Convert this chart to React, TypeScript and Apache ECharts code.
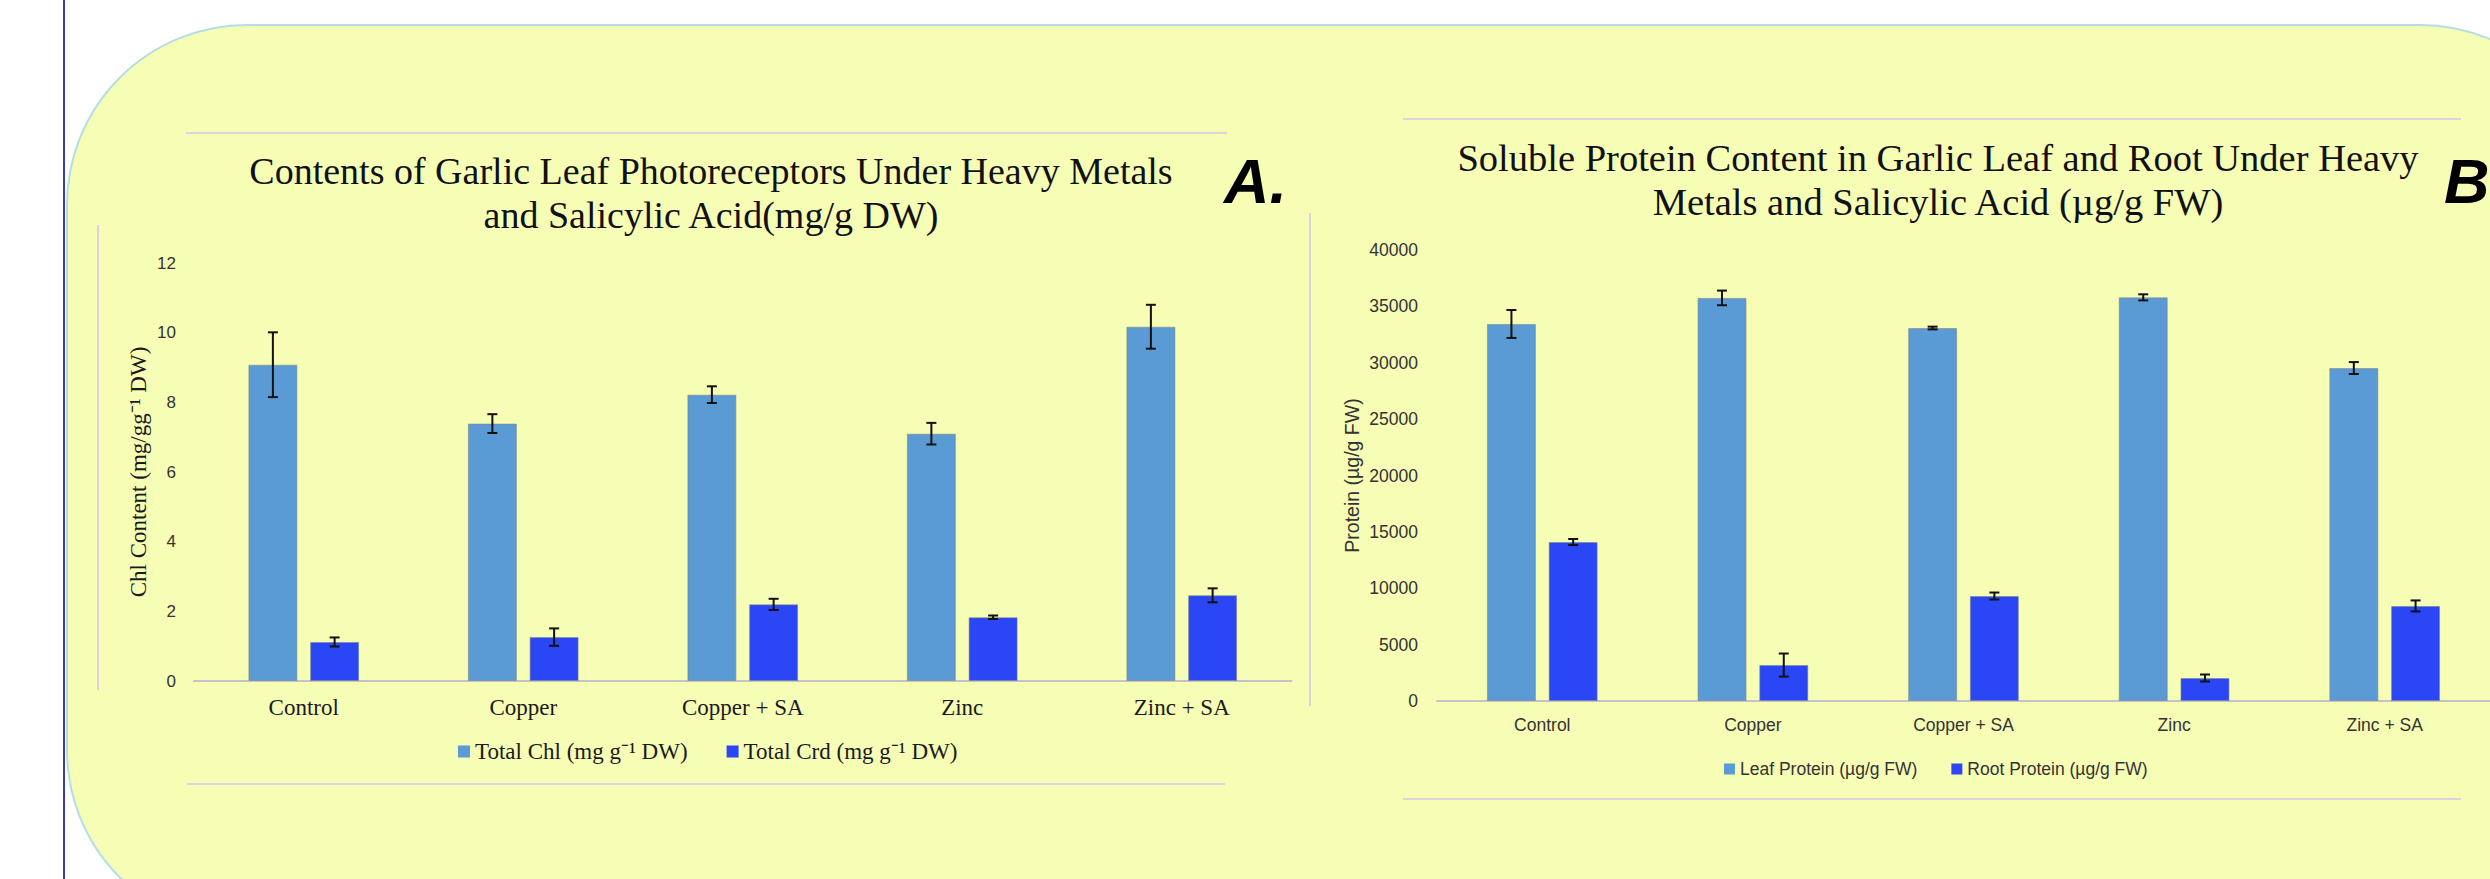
import React, { useEffect, useRef } from 'react';
import * as echarts from 'echarts';

// ---------- data ----------
const categories = ['Control', 'Copper', 'Copper + SA', 'Zinc', 'Zinc + SA'];

const chlName = 'Total Chl (mg g\u207B\u00B9 DW)';
const crdName = 'Total Crd (mg g\u207B\u00B9 DW)';
const chlValues = [9.08, 7.39, 8.22, 7.1, 10.17];
const chlErrors = [0.93, 0.27, 0.24, 0.31, 0.63];
const crdValues = [1.12, 1.26, 2.2, 1.83, 2.46];
const crdErrors = [0.13, 0.25, 0.16, 0.05, 0.2];

const leafName = 'Leaf Protein (\u00B5g/g FW)';
const rootName = 'Root Protein (\u00B5g/g FW)';
const leafValues = [33440, 35750, 33080, 35800, 29530];
const leafErrors = [1240, 650, 120, 270, 530];
const rootValues = [14100, 3190, 9310, 2040, 8430];
const rootErrors = [270, 1020, 310, 310, 490];

const axisA = { min: 0, max: 12, interval: 2 };
const axisB = { min: 0, max: 40000, interval: 5000 };

const titleA = 'Contents of Garlic Leaf Photoreceptors Under Heavy Metals\nand Salicylic Acid(mg/g DW)';
const titleB = 'Soluble Protein Content in Garlic Leaf and Root Under Heavy\nMetals and Salicylic Acid (\u00B5g/g FW)';
const yNameA = 'Chl Content (mg/gg\u207B\u00B9 DW)';
const yNameB = 'Protein (\u00B5g/g FW)';
const panelA = 'A.';
const panelB = 'B';

// ---------- styles ----------
const SERIF = '"Liberation Serif", "Times New Roman", serif';
const SANS = '"Liberation Sans", Arial, sans-serif';
const LIGHT = '#5B9BD5';
const DARK = '#2B47F5';
const BAR_W = 49;
const GAP_RATIO = 0.26;
const OFFSET = (BAR_W + BAR_W * GAP_RATIO) / 2;
const CAP = 5;

function errorSeries(xi: number, values: number[], errs: number[], side: number) {
  return {
    type: 'custom',
    xAxisIndex: xi,
    yAxisIndex: xi,
    silent: true,
    z: 10,
    data: values.map((v, i) => [i, v - errs[i], v + errs[i]]),
    encode: { x: 0, y: [1, 2] },
    renderItem: (params: any, api: any) => {
      const i = api.value(0);
      const lo = api.coord([i, api.value(1)]);
      const hi = api.coord([i, api.value(2)]);
      const x = lo[0] + side * OFFSET;
      const st = { stroke: '#111', lineWidth: 2 };
      return {
        type: 'group',
        children: [
          { type: 'line', shape: { x1: x, y1: lo[1], x2: x, y2: hi[1] }, style: st },
          { type: 'line', shape: { x1: x - CAP, y1: hi[1], x2: x + CAP, y2: hi[1] }, style: st },
          { type: 'line', shape: { x1: x - CAP, y1: lo[1], x2: x + CAP, y2: lo[1] }, style: st },
        ],
      };
    },
  };
}

function barSeries(name: string, xi: number, values: number[], color: string) {
  return {
    type: 'bar',
    name,
    xAxisIndex: xi,
    yAxisIndex: xi,
    data: values,
    barWidth: BAR_W,
    barGap: `${GAP_RATIO * 100}%`,
    itemStyle: { color, borderColor: 'rgba(130,130,130,0.55)', borderWidth: 1 },
  };
}

const frameStyle = { stroke: '#D6D6DC', lineWidth: 2 };

export default function App() {
  const ref = useRef<HTMLDivElement>(null);
  useEffect(() => {
    if (!ref.current) return;
    const chart = echarts.init(ref.current, undefined, { renderer: 'svg' });
    const option: any = {
      animation: false,
      backgroundColor: '#FFFFFF',
      graphic: [
        {
          type: 'rect',
          silent: true,
          shape: { x: 67, y: 25, width: 2533, height: 905, r: 180 },
          style: { fill: '#F6FDB5', stroke: '#B5DDE6', lineWidth: 2 },
        },
        { type: 'line', silent: true, shape: { x1: 64, y1: 0, x2: 64, y2: 879 }, style: { stroke: '#3B3BB0', lineWidth: 2 } },
        { type: 'line', silent: true, shape: { x1: 186, y1: 133, x2: 1227, y2: 133 }, style: frameStyle },
        { type: 'line', silent: true, shape: { x1: 98, y1: 225, x2: 98, y2: 690 }, style: frameStyle },
        { type: 'line', silent: true, shape: { x1: 187, y1: 784, x2: 1225, y2: 784 }, style: frameStyle },
        { type: 'line', silent: true, shape: { x1: 1310, y1: 213, x2: 1310, y2: 706 }, style: frameStyle },
        { type: 'line', silent: true, shape: { x1: 1403, y1: 119, x2: 2461, y2: 119 }, style: frameStyle },
        { type: 'line', silent: true, shape: { x1: 1403, y1: 799, x2: 2461, y2: 799 }, style: frameStyle },
      ],
      title: [
        {
          text: titleA, left: 706, top: 144, textAlign: 'center',
          textStyle: { fontFamily: SERIF, fontSize: 38, fontWeight: 'normal', color: '#111', lineHeight: 44 },
        },
        {
          text: titleB, left: 1933, top: 131, textAlign: 'center',
          textStyle: { fontFamily: SERIF, fontSize: 38.5, fontWeight: 'normal', color: '#111', lineHeight: 44 },
        },
        {
          text: panelA, left: 1219, top: 144,
          textStyle: { fontFamily: SANS, fontSize: 63, fontStyle: 'italic', fontWeight: 'bold', color: '#000', lineHeight: 63 },
        },
        {
          text: panelB, left: 2439, top: 144,
          textStyle: { fontFamily: SANS, fontSize: 63, fontStyle: 'italic', fontWeight: 'bold', color: '#000', lineHeight: 63 },
        },
      ],
      legend: [
        {
          data: [chlName, crdName], left: 458, top: 740, padding: 0,
          itemWidth: 12, itemHeight: 12, itemGap: 39, icon: 'rect',
          itemStyle: { borderWidth: 0 },
          textStyle: { fontFamily: SERIF, fontSize: 23, color: '#1a1a1a' },
        },
        {
          data: [leafName, rootName], left: 1724, top: 760, padding: 0,
          itemWidth: 11, itemHeight: 11, itemGap: 34, icon: 'rect',
          itemStyle: { borderWidth: 0 },
          textStyle: { fontFamily: SANS, fontSize: 17.5, color: '#333' },
        },
      ],
      grid: [
        { left: 194, right: 1198.5, top: 263, bottom: 198 },
        { left: 1437, right: -43, top: 250, bottom: 178 },
      ],
      xAxis: [
        {
          gridIndex: 0, type: 'category', data: categories,
          axisLine: { lineStyle: { color: '#C4C4C8', width: 2 } },
          axisTick: { show: false },
          axisLabel: { interval: 0, margin: 15, fontFamily: SERIF, fontSize: 23, color: '#1a1a1a' },
        },
        {
          gridIndex: 1, type: 'category', data: categories,
          axisLine: { lineStyle: { color: '#C4C4C8', width: 2 } },
          axisTick: { show: false },
          axisLabel: { interval: 0, margin: 15, fontFamily: SANS, fontSize: 17.5, color: '#333' },
        },
      ],
      yAxis: [
        {
          gridIndex: 0, type: 'value', ...axisA,
          axisLine: { show: false }, axisTick: { show: false }, splitLine: { show: false },
          axisLabel: { margin: 18, fontFamily: SANS, fontSize: 17, color: '#333' },
          name: yNameA, nameLocation: 'middle', nameGap: 44,
          nameTextStyle: { fontFamily: SERIF, fontSize: 23, color: '#1a1a1a' },
        },
        {
          gridIndex: 1, type: 'value', ...axisB,
          axisLine: { show: false }, axisTick: { show: false }, splitLine: { show: false },
          axisLabel: { margin: 19, fontFamily: SANS, fontSize: 17.5, color: '#333', formatter: (v: number) => String(v) },
          name: yNameB, nameLocation: 'middle', nameGap: 75,
          nameTextStyle: { fontFamily: SANS, fontSize: 19.5, color: '#333' },
        },
      ],
      series: [
        barSeries(chlName, 0, chlValues, LIGHT),
        barSeries(crdName, 0, crdValues, DARK),
        errorSeries(0, chlValues, chlErrors, -1),
        errorSeries(0, crdValues, crdErrors, 1),
        barSeries(leafName, 1, leafValues, LIGHT),
        barSeries(rootName, 1, rootValues, DARK),
        errorSeries(1, leafValues, leafErrors, -1),
        errorSeries(1, rootValues, rootErrors, 1),
      ],
    };
    chart.setOption(option);
    return () => chart.dispose();
  }, []);
  return (
    <div
      ref={ref}
      style={{ position: 'fixed', left: 0, top: 0, width: 2490, height: 879 }}
    />
  );
}
